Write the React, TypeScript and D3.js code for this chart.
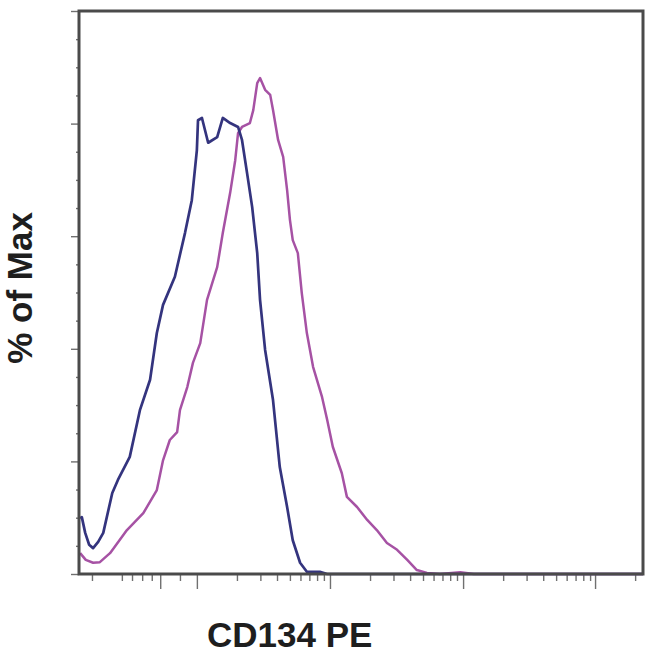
import React, { useRef, useEffect } from 'react';
import * as d3 from 'd3';

// channel units on x (0-1000 display channels), % of max on y
const isotypeX = [2, 5, 11, 18, 25, 34, 43, 59, 69, 90, 108, 126, 138, 149, 170, 188, 200, 209, 211, 218, 229, 245, 255, 268, 282, 289, 298, 307, 316, 321, 330, 344, 356, 369, 379, 392, 404, 427, 440, 1000];
const isotypeY = [9.9, 10.1, 7.3, 5.2, 4.6, 5.7, 7.3, 14.4, 16.7, 20.8, 29.1, 34.5, 42.8, 47.8, 52.8, 60.6, 66.4, 75.3, 80.6, 81.0, 76.6, 77.6, 81.0, 80.1, 79.4, 77.1, 71.2, 65.2, 57.0, 48.7, 39.8, 30.9, 19.0, 11.9, 6.0, 2.0, 0.4, 0.4, 0, 0];

const cd134X = [2, 12, 25, 37, 55, 85, 114, 138, 149, 161, 174, 179, 192, 202, 215, 227, 245, 255, 268, 277, 282, 289, 303, 309, 316, 321, 330, 339, 344, 353, 362, 369, 374, 379, 388, 395, 404, 415, 431, 440, 450, 466, 475, 493, 511, 528, 546, 564, 582, 599, 617, 640, 676, 700, 1000];
const cd134Y = [3.7, 2.5, 2.0, 2.1, 3.7, 7.8, 10.8, 14.9, 20.2, 23.8, 25.2, 29.1, 33.2, 37.5, 41.0, 48.7, 54.5, 60.6, 67.7, 73.5, 78.3, 79.4, 80.1, 82.4, 87.2, 88.1, 86.0, 85.1, 82.4, 77.1, 74.1, 68.2, 62.9, 59.3, 57.0, 49.9, 42.8, 36.8, 31.4, 27.4, 22.6, 17.9, 13.7, 11.9, 9.6, 7.8, 5.5, 4.3, 2.5, 0.7, 0.2, 0, 0.3, 0, 0];

// axis ticks (no labels shown in the original)
const xDecades = [445, 681, 915];
const xLinearMajor = [144, 209];
const xLinearMinor = [23, 76, 94, 112, 129, 179];
const yMajor = [0, 20, 40, 60, 80, 100];
const yMinor = [5, 10, 15, 25, 30, 35, 45, 50, 55, 65, 70, 75, 85, 90, 95];

const W = 650;
const H = 666;

const App: React.FC = () => {
    const svgRef = useRef<SVGSVGElement>(null);

    useEffect(() => {
        if (!svgRef.current) return;
        const svg = d3.select(svgRef.current);
        svg.selectAll("*").remove();

        const margin = { top: 11, right: 7, bottom: 92, left: 79 };
        const width = W - margin.left - margin.right;
        const height = H - margin.top - margin.bottom;

        const x = d3.scaleLinear().domain([0, 1000]).range([0, width]);
        const y = d3.scaleLinear().domain([0, 100]).range([height, 0]);

        // decade spacing in channels, minors at log positions
        const decadeW = xDecades[1] - xDecades[0];
        const logMinor: number[] = [];
        [xLinearMajor[1], ...xDecades].forEach(d => {
            for (let k = 2; k <= 9; k++) {
                const v = d + Math.log10(k) * decadeW;
                if (v < 1000) logMinor.push(v);
            }
        });

        const g = svg.append("g").attr("transform", `translate(${margin.left},${margin.top})`);

        const tickColor = "#707070";

        const xMinorAxis = g.append("g")
            .attr("transform", `translate(0,${height})`)
            .call(d3.axisBottom(x).tickValues([...xLinearMinor, ...logMinor]).tickSize(7).tickFormat(() => ""));
        const xMajorAxis = g.append("g")
            .attr("transform", `translate(0,${height})`)
            .call(d3.axisBottom(x).tickValues([...xLinearMajor, ...xDecades]).tickSize(15).tickFormat(() => ""));
        const yMinorAxis = g.append("g")
            .call(d3.axisLeft(y).tickValues(yMinor).tickSize(3).tickFormat(() => ""));
        const yMajorAxis = g.append("g")
            .call(d3.axisLeft(y).tickValues(yMajor).tickSize(8).tickFormat(() => ""));

        [xMinorAxis, xMajorAxis, yMinorAxis, yMajorAxis].forEach(a => {
            a.select(".domain").remove();
            a.selectAll("line").attr("stroke", tickColor).attr("stroke-width", 1.4);
        });

        const line = d3.line<[number, number]>()
            .x(d => x(d[0]))
            .y(d => y(d[1]));

        const cd134: [number, number][] = cd134X.map((v, i) => [v, cd134Y[i]]);
        const isotype: [number, number][] = isotypeX.map((v, i) => [v, isotypeY[i]]);

        g.append("path")
            .attr("d", line(cd134))
            .attr("fill", "none")
            .attr("stroke", "#a652a4")
            .attr("stroke-width", 2.5)
            .attr("stroke-linejoin", "round");

        g.append("path")
            .attr("d", line(isotype))
            .attr("fill", "none")
            .attr("stroke", "#34347e")
            .attr("stroke-width", 2.7)
            .attr("stroke-linejoin", "round");

        g.append("rect")
            .attr("x", 0)
            .attr("y", 0)
            .attr("width", width)
            .attr("height", height)
            .attr("fill", "none")
            .attr("stroke", "#4a4a4a")
            .attr("stroke-width", 3);

        svg.append("text")
            .attr("x", 207)
            .attr("y", 647)
            .attr("fill", "#1e1e1e")
            .style("font-family", "'Liberation Sans', Arial, sans-serif")
            .style("font-weight", "bold")
            .style("font-size", "35px")
            .text("CD134 PE");

        svg.append("text")
            .attr("transform", `translate(32,${288}) rotate(-90)`)
            .attr("fill", "#1e1e1e")
            .style("text-anchor", "middle")
            .style("font-family", "'Liberation Sans', Arial, sans-serif")
            .style("font-weight", "bold")
            .style("font-size", "35px")
            .text("% of Max");
    }, []);

    return (
        <div style={{ position: "absolute", left: 0, top: 0, width: W, height: H, background: "#fff" }}>
            <svg ref={svgRef} width={W} height={H} style={{ display: "block" }} />
        </div>
    );
};

export default App;
